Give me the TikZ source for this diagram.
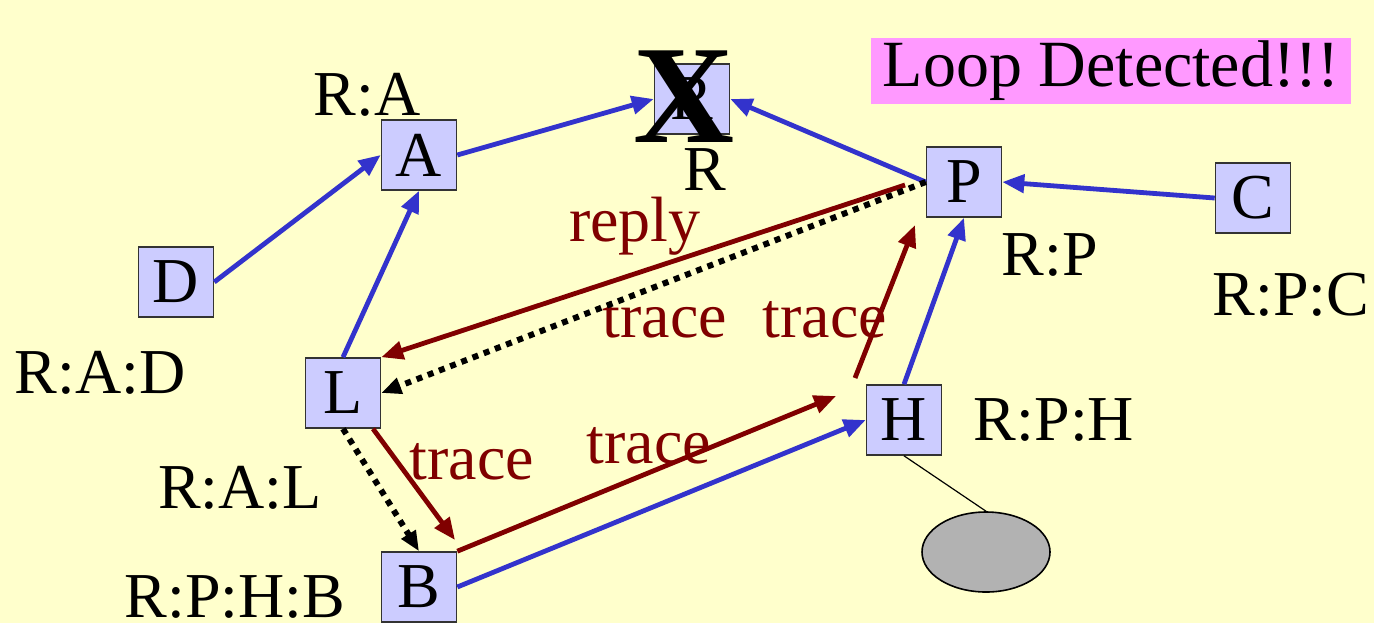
\documentclass[tikz,border=0pt]{standalone}
\usepackage{fontspec}
\setmainfont{Liberation Serif}
\usetikzlibrary{arrows.meta,shapes.geometric}
\definecolor{bgyellow}{HTML}{FFFFCC}
\definecolor{boxblue}{HTML}{CCCCFF}
\definecolor{linkblue}{HTML}{3333CC}
\definecolor{tracered}{HTML}{800000}
\definecolor{alertpink}{HTML}{FF99FF}
\begin{document}
\begin{tikzpicture}[
  x=0.5pt, y=-0.5pt,
  every node/.style={font=\fontsize{32}{36}\selectfont},
  host/.style={rectangle, draw=black!80, line width=0.8pt, fill=boxblue,
    minimum width=37.5pt, minimum height=35pt, inner sep=0pt},
  link/.style={draw=linkblue, line width=2.4pt, -{Triangle[length=11pt,width=9pt]}},
  tracearrow/.style={draw=tracered, line width=2.4pt, -{Triangle[length=11pt,width=9pt]}},
  probe/.style={draw=black, line width=3pt, dash pattern=on 3pt off 3pt,
    -{Triangle[length=10pt,width=8pt]}},
  tracetxt/.style={text=tracered}
]
\fill[bgyellow] (0,0) rectangle (1374,623);
\useasboundingbox (0,0) rectangle (1374,623);

\node[fill=alertpink, minimum width=240pt, minimum height=33pt, inner sep=0pt,
  font=\fontsize{33}{37}\selectfont] (alert) at (1111,71) {Loop Detected!!!};

\node[host] (nR) at (692,99) {R};
\node[font=\fontsize{70}{76}\selectfont\bfseries, inner sep=0pt] (nX) at (684,97) {X};
\node[host] (nA) at (419,155) {A};
\node[host] (nP) at (964,182) {P};
\node[host] (nC) at (1253,198) {C};
\node[host] (nD) at (176,282) {D};
\node[host] (nL) at (343,393) {L};
\node[host] (nH) at (904,420) {H};
\node[host] (nB) at (419,587) {B};
\node[ellipse, draw=black, line width=0.8pt, fill=black!30, minimum width=64pt,
  minimum height=40pt, inner sep=0pt] (nE) at (986,552) {};

\node (lRA) at (367,95) {R:A};
\node (lR) at (705,170) {R};
\node (lRP) at (1050,255) {R:P};
\node (lRPC) at (1291,295) {R:P:C};
\node (lRAD) at (100,373) {R:A:D};
\node (lRAL) at (240,488) {R:A:L};
\node (lRPHB) at (235,597) {R:P:H:B};
\node (lRPH) at (1054,420) {R:P:H};

\node[tracetxt] (tReply) at (635,226) {reply};
\node[tracetxt] (tOne) at (665,320) {trace};
\node[tracetxt] (tTwo) at (825,320) {trace};
\node[tracetxt] (tThree) at (472,462) {trace};
\node[tracetxt] (tFour) at (649,446) {trace};

\coordinate (replyStart) at (905,185);
\coordinate (lbEnd) at (455,540);
\coordinate (bhEnd) at (836,396);
\coordinate (hpStart) at (855,378);
\coordinate (hpEnd) at (915,225);

\draw[link] (nD.east) -- (nA.west);
\draw[link] (nA.east) -- (nR.west);
\draw[link] (nP.west) -- (nR.east);
\draw[link] (nC.west) -- (nP.east);
\draw[link] (nL.north) -- (nA.south);
\draw[link] (nH.north) -- (nP.south);
\draw[link] (nB.east) -- (nH.west);

\draw[tracearrow] (replyStart) -- (nL.north east);
\draw[tracearrow] ([xshift=15pt]nL.south) -- (lbEnd);
\draw[tracearrow] (nB.north east) -- (bhEnd);
\draw[tracearrow] (hpStart) -- (hpEnd);

\draw[probe] (nP.west) -- (nL.east);
\draw[probe] (nL.south) -- (nB.north);

\draw[line width=0.6pt] (nH.south) -- (nE.north);
\end{tikzpicture}
\end{document}
